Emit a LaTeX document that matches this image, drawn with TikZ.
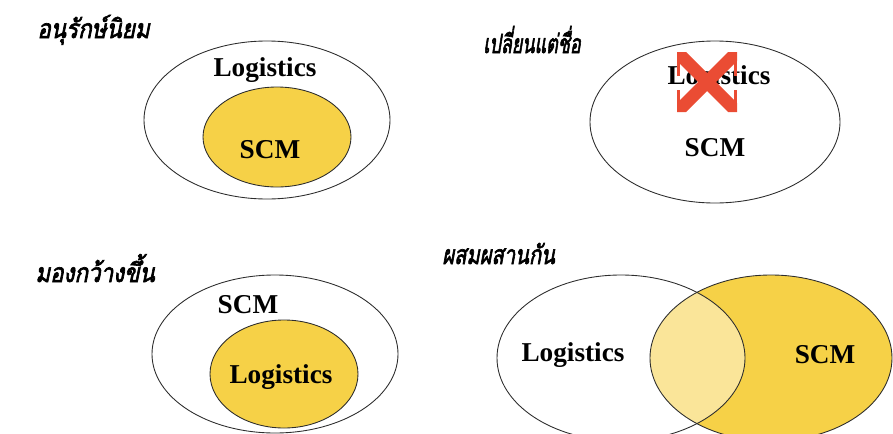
\documentclass[tikz,border=0pt]{standalone}
\usepackage{fontspec}
\setmainfont{Liberation Serif}
\newfontfamily\thaifont[Script=Thai, FakeBold=2.5, FakeSlant=0.2, FakeStretch=0.85]{Loma}
\definecolor{scmyellow}{RGB}{246,209,71}
\definecolor{xred}{RGB}{234,76,52}
\definecolor{rimgray}{RGB}{45,45,45}
\begin{document}
\begin{tikzpicture}[x=0.02cm, y=-0.02cm,
  rim/.style={draw=rimgray, line width=0.5pt},
  core/.style={rim, fill=scmyellow},
  word/.style={font=\fontsize{15.5}{18}\selectfont\bfseries, inner sep=0pt},
  heading/.style={font=\thaifont\fontsize{15}{18}\selectfont, anchor=base west, inner sep=0pt},
  crossbar/.style={draw=xred, line width=2.2pt}]
\useasboundingbox (0,0) rectangle (893,433);
\clip (0,0) rectangle (893,433);
% panel 1
\node[heading] (t1) at (37,38) {อนุรักษ์นิยม};
\draw[rim] (267,120) ellipse [x radius=123, y radius=79];
\draw[core] (277,137) ellipse [x radius=74, y radius=50];
\node[word] (log1) at (265,70) {Logistics};
\node[word] (scm1) at (270,150) {SCM};
% panel 2
\node[heading] (t2) at (483,53) {\scalebox{0.8}[1]{เปลี่ยนแต่ชื่อ}};
\draw[rim] (715,122) ellipse [x radius=125, y radius=81];
\node[word] (log2) at (719,78) {Logistics};
\node[word] (scm2) at (715,148) {SCM};
% the red cross over the old name
\fill[xred] (677,52) -- (686,52) -- (737,103) -- (737,112) -- (728,112) -- (677,61) -- cycle;
\fill[xred] (737,52) -- (728,52) -- (677,103) -- (677,112) -- (686,112) -- (737,61) -- cycle;
\draw[crossbar] (678.5,52) -- (678.5,76) (678.5,90) -- (678.5,112)
  (735.5,52) -- (735.5,76) (735.5,90) -- (735.5,112);
% panel 3
\node[heading] (t3) at (35,282) {มองกว้างขึ้น};
\draw[rim] (275,354) ellipse [x radius=123, y radius=79];
\draw[core] (284,374) ellipse [x radius=74, y radius=54];
\node[word] (scm3) at (248,305) {SCM};
\node[word] (log3) at (281,377) {Logistics};
% panel 4
\node[heading] (t4) at (442,264) {\scalebox{0.9}[1]{ผสมผสานกัน}};
\fill[scmyellow] (771,358) ellipse [x radius=121, y radius=83];
\fill[white, opacity=0.45] (621,358) ellipse [x radius=124, y radius=83];
\draw[rim] (771,358) ellipse [x radius=121, y radius=83];
\draw[rim] (621,358) ellipse [x radius=124, y radius=83];
\node[word] (log4) at (573,355) {Logistics};
\node[word] (scm4) at (825,355) {SCM};
\end{tikzpicture}
\end{document}
